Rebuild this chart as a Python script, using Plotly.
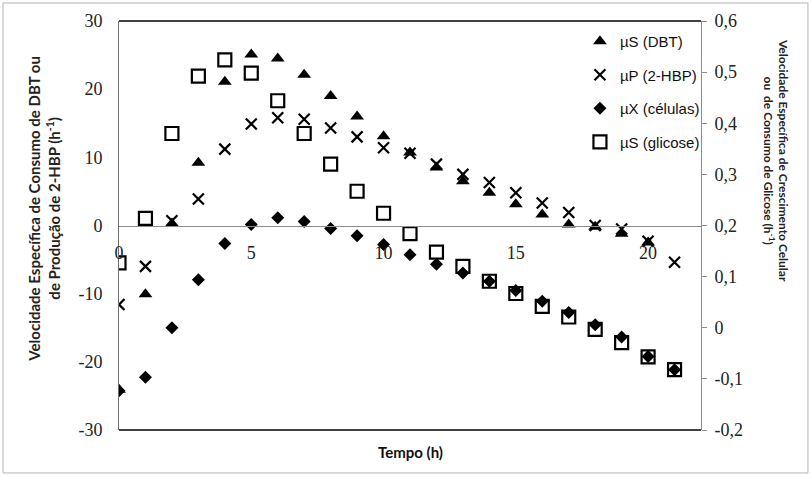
import plotly.graph_objects as go

# Time (h)
tempo = list(range(22))

# Left axis: specific rates of DBT consumption and 2-HBP production (h-1)
mu_s_dbt = [-24.1, -10.1, 0.3, 9.2, 21.1, 25.1, 24.5, 22.1, 19.0, 16.0, 13.1,
            10.7, 8.5, 6.5, 4.8, 3.1, 1.6, 0.15, -0.2, -1.2, -2.5]
mu_p_hbp = [-11.6, -6.0, 0.7, 3.9, 11.2, 14.9, 15.8, 15.6, 14.3, 13.0, 11.4,
            10.6, 9.0, 7.5, 6.3, 4.8, 3.3, 1.9, 0.0, -0.5, -2.3, -5.4]

# Right axis: specific growth rate and glucose consumption rate (h-1)
mu_x_cel = [-0.123, -0.097, 0.0, 0.094, 0.165, 0.202, 0.215, 0.208, 0.194, 0.180,
            0.163, 0.143, 0.124, 0.107, 0.091, 0.073, 0.052, 0.030, 0.006,
            -0.018, -0.056, -0.082]
mu_s_gli = [0.127, 0.214, 0.380, 0.492, 0.524, 0.498, 0.444, 0.380, 0.320, 0.267,
            0.224, 0.184, 0.148, 0.120, 0.091, 0.067, 0.042, 0.021, -0.003,
            -0.029, -0.057, -0.082]

serie_nomes = ["µS (DBT)", "µP (2-HBP)", "µX (células)", "µS (glicose)"]

x_ticks = [0, 5, 10, 15, 20]
y_ticks = [-30, -20, -10, 0, 10, 20, 30]
y_ticktext = ["-30", "-20", "-10", "0", "10", "20", "30"]
y2_ticks = [-0.2, -0.1, 0, 0.1, 0.2, 0.3, 0.4, 0.5, 0.6]
y2_ticktext = ["-0,2", "-0,1", "0", "0,1", "0,2", "0,3", "0,4", "0,5", "0,6"]

TICK_FONT = dict(family="Liberation Serif, Times New Roman, serif", size=18, color="#222")
LEG_FONT = dict(family="Liberation Sans Narrow, Arial Narrow, Liberation Sans, sans-serif",
                size=15, color="#111")
TITLE_FAMILY = "Lato, Open Sans, sans-serif"

fig = go.Figure()

fig.add_trace(go.Scatter(
    x=tempo[:len(mu_s_dbt)], y=mu_s_dbt, mode="markers", name=serie_nomes[0],
    legendgroup="a",
    marker=dict(symbol="triangle-up", size=12, color="black"),
))
fig.add_trace(go.Scatter(
    x=tempo, y=mu_p_hbp, mode="markers", name=serie_nomes[1], legendgroup="b",
    marker=dict(symbol="x-thin-open", size=11, color="black",
                line=dict(width=2.2, color="black")),
))
fig.add_trace(go.Scatter(
    x=tempo, y=mu_x_cel, mode="markers", name=serie_nomes[2], legendgroup="c",
    yaxis="y2",
    marker=dict(symbol="diamond", size=10, color="black"),
))
fig.add_trace(go.Scatter(
    x=tempo, y=mu_s_gli, mode="markers", name=serie_nomes[3], legendgroup="d",
    yaxis="y2",
    marker=dict(symbol="square-open", size=13, color="black",
                line=dict(width=2.2, color="black")),
))

fig.update_layout(
    width=811, height=477,
    margin=dict(l=119, r=110, t=21, b=47),
    paper_bgcolor="white", plot_bgcolor="white",
    showlegend=True,
    legend=dict(
        x=0.792, y=0.99, xanchor="left", yanchor="top",
        bgcolor="rgba(0,0,0,0)", font=LEG_FONT,
        tracegroupgap=11, itemwidth=30,
    ),
    xaxis=dict(
        range=[0, 22], tickvals=x_ticks, ticks="", showgrid=False,
        zeroline=False, showline=True, linecolor="#8c8c8c", linewidth=1,
        anchor="free", position=0.5, tickfont=TICK_FONT,
        ticklabelstandoff=11,
    ),
    yaxis=dict(
        range=[-30, 30], tickvals=y_ticks, ticktext=y_ticktext, ticks="",
        showgrid=False, zeroline=False, showline=True, linecolor="#6e6e6e",
        linewidth=1, tickfont=TICK_FONT, ticklabelstandoff=12,
    ),
    yaxis2=dict(
        range=[-0.2, 0.6], tickvals=y2_ticks, ticktext=y2_ticktext,
        overlaying="y", side="right", ticks="outside", ticklen=5,
        tickcolor="#8c8c8c", showgrid=False, zeroline=False, showline=True,
        linecolor="#8c8c8c", linewidth=1, tickfont=TICK_FONT,
        ticklabelstandoff=4,
    ),
)

# plot-area top and bottom edges, and the outer frame of the chart
fig.add_shape(type="line", xref="paper", yref="paper", x0=0, x1=1, y0=1, y1=1,
              line=dict(color="black", width=1.5))
fig.add_shape(type="line", xref="paper", yref="paper", x0=0, x1=1, y0=0, y1=0,
              line=dict(color="black", width=1.5))
fig.add_shape(type="rect", xref="paper", yref="paper",
              x0=-0.1993, x1=1.1838, y0=-0.105, y1=1.044,
              line=dict(color="#b4b4b4", width=1))

fig.add_annotation(
    text="Velocidade Específica de Consumo de DBT ou<br>de Produção de 2-HBP (h<sup>-1</sup>)",
    xref="paper", yref="paper", x=-0.128, y=0.54, textangle=-90,
    showarrow=False, xanchor="center", yanchor="middle",
    font=dict(family=TITLE_FAMILY, size=15, color="#222", weight="bold"),
)
fig.add_annotation(
    text="Velocidade Específica de Crescimento Celular<br>ou  de Consumo de Glicose (h<sup>-1</sup>)",
    xref="paper", yref="paper", x=1.129, y=0.66, textangle=90,
    showarrow=False, xanchor="center", yanchor="middle",
    font=dict(family=TITLE_FAMILY, size=12, color="#222", weight="bold"),
)
fig.add_annotation(
    text="Tempo (h)", xref="paper", yref="paper", x=0.5, y=-0.054,
    showarrow=False, xanchor="center", yanchor="middle",
    font=dict(family=TITLE_FAMILY, size=15, color="#111", weight="bold"),
)

fig.write_html("out.html")
